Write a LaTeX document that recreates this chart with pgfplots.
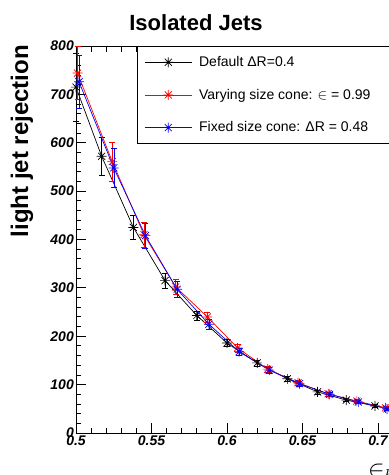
\documentclass[border=0pt]{standalone}
\usepackage{pgfplots}
\pgfplotsset{compat=1.18}
\usepackage{fontspec}
\setmainfont{Liberation Sans}

\pgfdeclareplotmark{rstar}{%
 \pgfpathmoveto{\pgfqpoint{-\pgfplotmarksize}{0pt}}\pgfpathlineto{\pgfqpoint{\pgfplotmarksize}{0pt}}%
 \pgfpathmoveto{\pgfqpoint{0pt}{-\pgfplotmarksize}}\pgfpathlineto{\pgfqpoint{0pt}{\pgfplotmarksize}}%
 \pgfpathmoveto{\pgfqpoint{-0.707\pgfplotmarksize}{-0.707\pgfplotmarksize}}\pgfpathlineto{\pgfqpoint{0.707\pgfplotmarksize}{0.707\pgfplotmarksize}}%
 \pgfpathmoveto{\pgfqpoint{-0.707\pgfplotmarksize}{0.707\pgfplotmarksize}}\pgfpathlineto{\pgfqpoint{0.707\pgfplotmarksize}{-0.707\pgfplotmarksize}}%
 \pgfusepathqstroke}

\pgfplotstableread{
x y e
0.500 715 70
0.517 572 40
0.538 425 25
0.559 315 15
0.580 243 9
0.600 186 7
0.620 145 6
0.640 112 5
0.660 85 4
0.679 68 3
0.698 56 3
0.717 46 3
}\blackdata
\pgfplotstableread{
x y e
0.501 744 55
0.524 561 40
0.545 410 26
0.566 302 16
0.587 240 10
0.607 176 8
0.627 132 6
0.647 104 5
0.667 81 4
0.686 66 3
0.705 52 3
0.725 42 3
}\reddata
\pgfplotstableread{
x y e
0.502 726 55
0.525 548 40
0.546 408 26
0.567 297 16
0.588 225 10
0.608 168 8
0.628 130 6
0.648 102 5
0.668 80 4
0.687 64 3
0.706 50 3
0.726 41 3
}\bluedata

\begin{document}
\begin{tikzpicture}
\begin{axis}[
  scale only axis, width=332.2pt, height=387pt,
  xmin=0.5, xmax=0.72, ymin=0, ymax=800,
  clip=false,
  xtick={0.5,0.55,0.6,0.65,0.7}, xticklabels={0.5,0.55,0.6,0.65,0.7},
  minor x tick num=4,
  ytick={0,100,...,800}, minor y tick num=4,
  major tick length=10pt, minor tick length=5.5pt,
  tick align=inside,
  tick style={black, line width=0.9pt},
  axis line style={line width=0.9pt},
  ticklabel style={font=\fontsize{14}{14}\selectfont\bfseries\itshape},
  yticklabel style={inner sep=2pt},
  xticklabel style={inner sep=2pt, yshift=-1pt},
  /pgf/number format/assume math mode=true,
  legend image code/.code={\draw[mark repeat=2,mark phase=2,#1] plot coordinates {(0pt,0pt) (23.5pt,0pt) (47pt,0pt)};},
  legend style={at={(0.1836,1)}, anchor=north west, draw=black, line width=0.9pt,
    font=\fontsize{14}{14}\selectfont, legend cell align=left,
    inner xsep=7pt, inner ysep=9pt, row sep=19pt, column sep=6pt,
    nodes={inner sep=1pt}},
  every axis plot/.append style={line width=0.7pt, mark=rstar, mark size=5pt,
     error bars/y dir=both, error bars/y explicit,
     error bars/error mark options={rotate=90, mark size=3pt}},
]
\addplot[black, error bars/error bar style={black}] table[x=x,y=y,y error=e]{\blackdata};
\addlegendentry{Default ΔR=0.4}
\addplot[red, error bars/error bar style={red}] table[x=x,y=y,y error=e]{\reddata};
\addlegendentry{Varying size cone: $\in$ = 0.99}
\addplot[blue, error bars/error bar style={blue}] table[x=x,y=y,y error=e]{\bluedata};
\addlegendentry{Fixed size cone: ΔR = 0.48\hspace*{20pt}}
\coordinate (O) at (rel axis cs:0,0);
\end{axis}
\node[font=\fontsize{22}{22}\selectfont\bfseries] at ([shift={(120pt,410pt)}]O) {Isolated Jets};
\node[rotate=90, anchor=east, inner sep=0pt, font=\fontsize{24}{24}\selectfont\bfseries] at ([shift={(-54pt,388pt)}]O) {light jet rejection};
\node[anchor=north west, inner sep=0pt, font=\fontsize{24}{24}\selectfont] at ([shift={(292pt,-31pt)}]O) {$\in_{b}$};
\pgfresetboundingbox
\path[use as bounding box] (O) ++(-76pt,-42pt) rectangle ++(389pt,475pt);
\end{tikzpicture}
\end{document}
